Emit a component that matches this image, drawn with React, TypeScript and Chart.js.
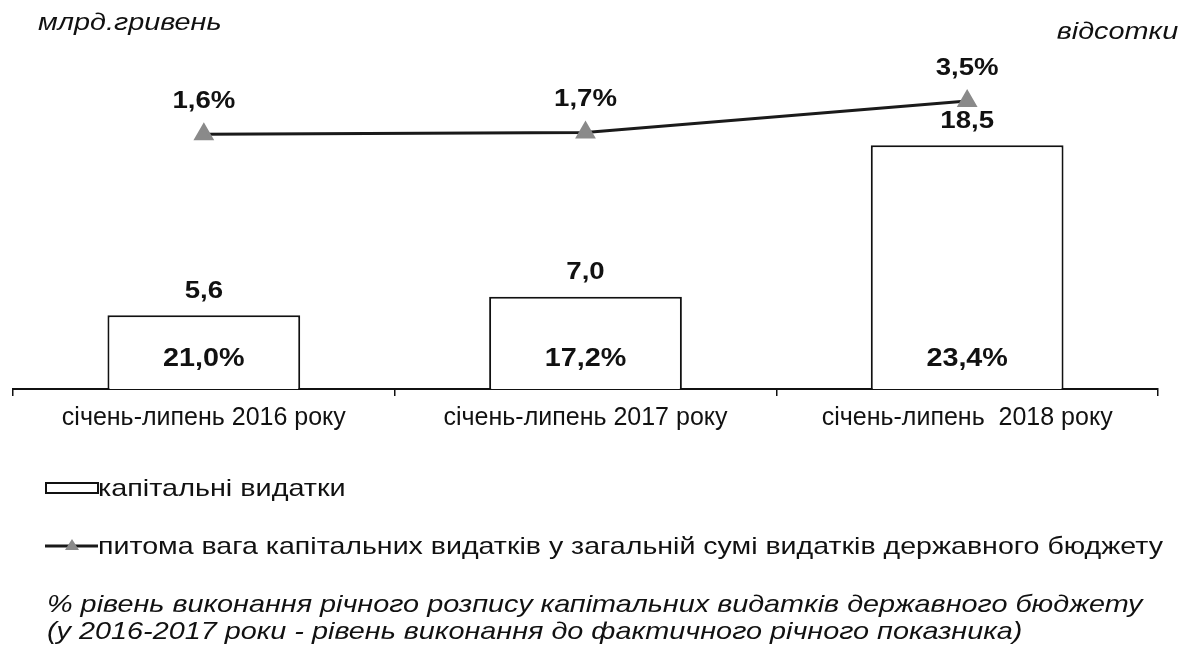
import React, { useEffect, useRef } from "react";
import { Chart, registerables } from "chart.js";

Chart.register(...registerables);

const categories = ["січень-липень 2016 року", "січень-липень 2017 року", "січень-липень  2018 року"];
const capitalSpending = [5.6, 7.0, 18.5];
const shareOfTotal = [1.6, 1.7, 3.5];
const executionRate = [21.0, 17.2, 23.4];
const leftAxisTitle = "млрд.гривень";
const rightAxisTitle = "відсотки";
const legendBars = "капітальні видатки";
const legendLine = "питома вага капітальних видатків у загальній сумі видатків державного бюджету";
const noteLines = [
  "% рівень виконання річного розпису капітальних видатків державного бюджету",
  "(у 2016-2017 роки - рівень виконання до фактичного річного показника)",
];

const FONT = '"Liberation Sans", Arial, sans-serif';
const fmt = (v: number) => v.toFixed(1).replace(".", ",");

const labelPlugin = {
  id: "valueLabels",
  afterDatasetsDraw(chart: any) {
    const ctx = chart.ctx;
    const barMeta = chart.getDatasetMeta(0);
    const lineMeta = chart.getDatasetMeta(1);
    const yScale = chart.scales.y;
    const draw = (text: string, x: number, y: number, size: number) => {
      ctx.save();
      ctx.translate(x, y);
      ctx.scale(1.15, 1);
      ctx.font = `bold ${size}px ${FONT}`;
      ctx.fillStyle = "#111";
      ctx.textAlign = "center";
      ctx.textBaseline = "middle";
      ctx.fillText(text, 0, 0);
      ctx.restore();
    };
    barMeta.data.forEach((bar: any, i: number) => {
      draw(fmt(capitalSpending[i]), bar.x, bar.y - 24, 24);
      draw(fmt(executionRate[i]) + "%", bar.x, yScale.bottom - 30, 25);
    });
    lineMeta.data.forEach((pt: any, i: number) => {
      draw(fmt(shareOfTotal[i]) + "%", pt.x, pt.y - 33, 24);
    });
  },
};

export default function App() {
  const ref = useRef<HTMLCanvasElement | null>(null);
  useEffect(() => {
    if (!ref.current) return;
    const chart = new Chart(ref.current, {
      type: "bar",
      data: {
        labels: categories,
        datasets: [
          {
            type: "bar",
            data: capitalSpending,
            backgroundColor: "#ffffff",
            borderColor: "#111111",
            borderWidth: 2,
            barPercentage: 0.505,
            categoryPercentage: 1,
            yAxisID: "y",
            order: 1,
          } as any,
          {
            type: "line",
            data: shareOfTotal,
            borderColor: "#1a1a1a",
            borderWidth: 3,
            pointStyle: "triangle",
            pointRadius: 9,
            pointBackgroundColor: "#8a8a8a",
            pointBorderColor: "#8a8a8a",
            yAxisID: "y1",
            order: 0,
            tension: 0,
          } as any,
        ],
      },
      options: {
        responsive: false,
        animation: false,
        devicePixelRatio: 1,
        layout: { padding: { left: 13, right: 30, top: 40, bottom: 212 } },
        plugins: { legend: { display: false }, tooltip: { enabled: false } },
        scales: {
          x: {
            grid: { display: true, drawOnChartArea: false, drawTicks: true, tickLength: 7, color: "#111", lineWidth: 1.5, offset: true },
            border: { display: true, color: "#111", width: 2 },
            ticks: { color: "#111", font: { family: FONT, size: 25 }, padding: 7, maxRotation: 0, autoSkip: false },
          },
          y: { display: false, min: 0, max: 26.5 },
          y1: { display: false, min: -13, max: 7, position: "right" },
        },
      },
      plugins: [labelPlugin],
    } as any);
    return () => chart.destroy();
  }, []);

  const txt: React.CSSProperties = {
    position: "absolute",
    fontFamily: FONT,
    color: "#111",
    whiteSpace: "nowrap",
    fontSize: 24,
    lineHeight: "28px",
    transform: "scaleX(1.2)",
    transformOrigin: "left center",
  };

  return (
    <div style={{ position: "absolute", left: 0, top: 0, width: 1188, height: 652, background: "#fff", overflow: "hidden" }}>
      <canvas ref={ref} width={1188} height={652} style={{ position: "absolute", left: 0, top: 0, width: 1188, height: 652 }} />
      <div style={{ ...txt, left: 38, top: 8, fontStyle: "italic" }}>{leftAxisTitle}</div>
      <div style={{ ...txt, right: 10, top: 17, fontStyle: "italic", transformOrigin: "right center" }}>{rightAxisTitle}</div>
      <svg style={{ position: "absolute", left: 45, top: 481 }} width={56} height={16}>
        <rect x={1} y={2} width={52} height={10} fill="#fff" stroke="#111" strokeWidth={2} />
      </svg>
      <div style={{ ...txt, left: 98, top: 474 }}>{legendBars}</div>
      <svg style={{ position: "absolute", left: 45, top: 536 }} width={56} height={20}>
        <line x1={0} y1={10} x2={53} y2={10} stroke="#1a1a1a" strokeWidth={3} />
        <polygon points="27,3 34,14 20,14" fill="#8a8a8a" />
      </svg>
      <div style={{ ...txt, left: 98, top: 532, transform: "scaleX(1.19)" }}>{legendLine}</div>
      <div style={{ ...txt, left: 47, top: 590, fontStyle: "italic", lineHeight: "27px", transformOrigin: "left top" }}>
        {noteLines[0]}
        <br />
        {noteLines[1]}
      </div>
    </div>
  );
}
